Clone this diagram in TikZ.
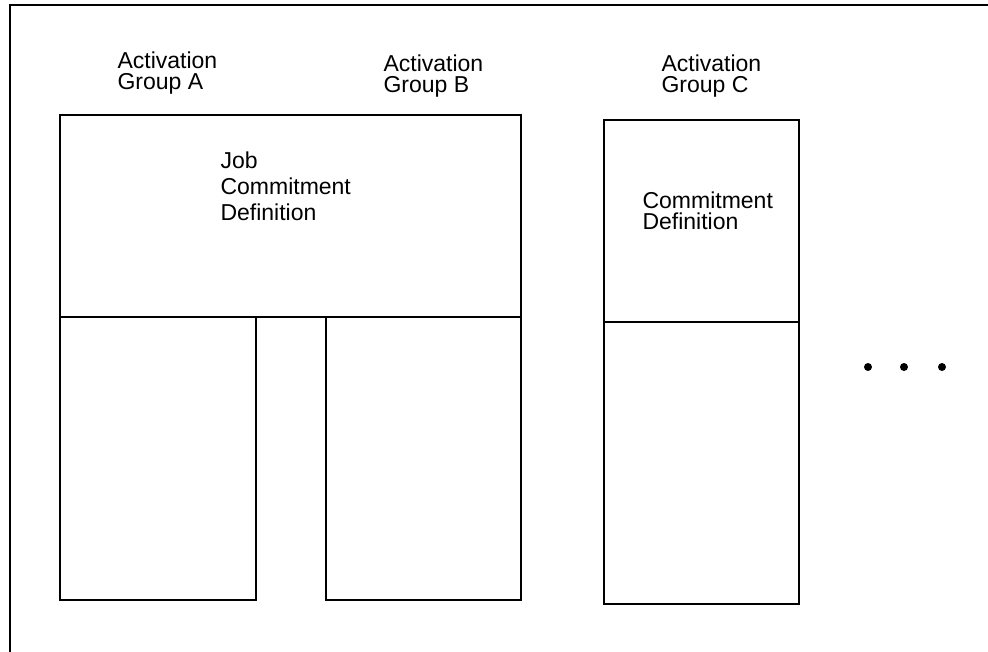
\documentclass[tikz,border=0pt]{standalone}
\usepackage{fontspec}
\setmainfont{Liberation Sans}
\tikzset{
  grouplabel/.style={anchor=west,align=left,inner sep=0pt,font=\fontsize{23}{21.5}\selectfont},
  boxlabel/.style={anchor=west,align=left,inner sep=0pt,font=\fontsize{23}{26}\selectfont},
  dot/.style={circle,fill=black,inner sep=0pt,minimum size=8pt}
}
\begin{document}
\begin{tikzpicture}[x=1pt,y=-1pt,line width=1.1pt]
	\useasboundingbox (0,0) rectangle (988,652);
	% frame
	\coordinate (F1) at (10,652);
	\coordinate (F2) at (10,5);
	\coordinate (F3) at (988,5);
	\draw (F1) -- (F2) -- (F3);

	% shared job commitment definition (groups A and B)
	\draw (60,115) rectangle (521,317);
	\draw (60,317) rectangle (256,600);
	\draw (326,317) rectangle (521,600);

	% group C with its own commitment definition
	\draw (604,120) rectangle (799,322);
	\draw (604,322) rectangle (799,604);

	% labels
	\node[grouplabel] (labA) at (117,73) {Activation\\Group A};
	\node[grouplabel] (labB) at (383,76) {Activation\\Group B};
	\node[grouplabel] (labC) at (661,76) {Activation\\Group C};
	\node[boxlabel] (jobcd) at (220,186) {Job\\Commitment\\Definition};
	\node[grouplabel] (cdC) at (642,211) {Commitment\\Definition};

	% more groups
	\foreach \x/\n in {868/d1,904/d2,942/d3}
		\node[dot] (\n) at (\x,367) {};
\end{tikzpicture}
\end{document}
